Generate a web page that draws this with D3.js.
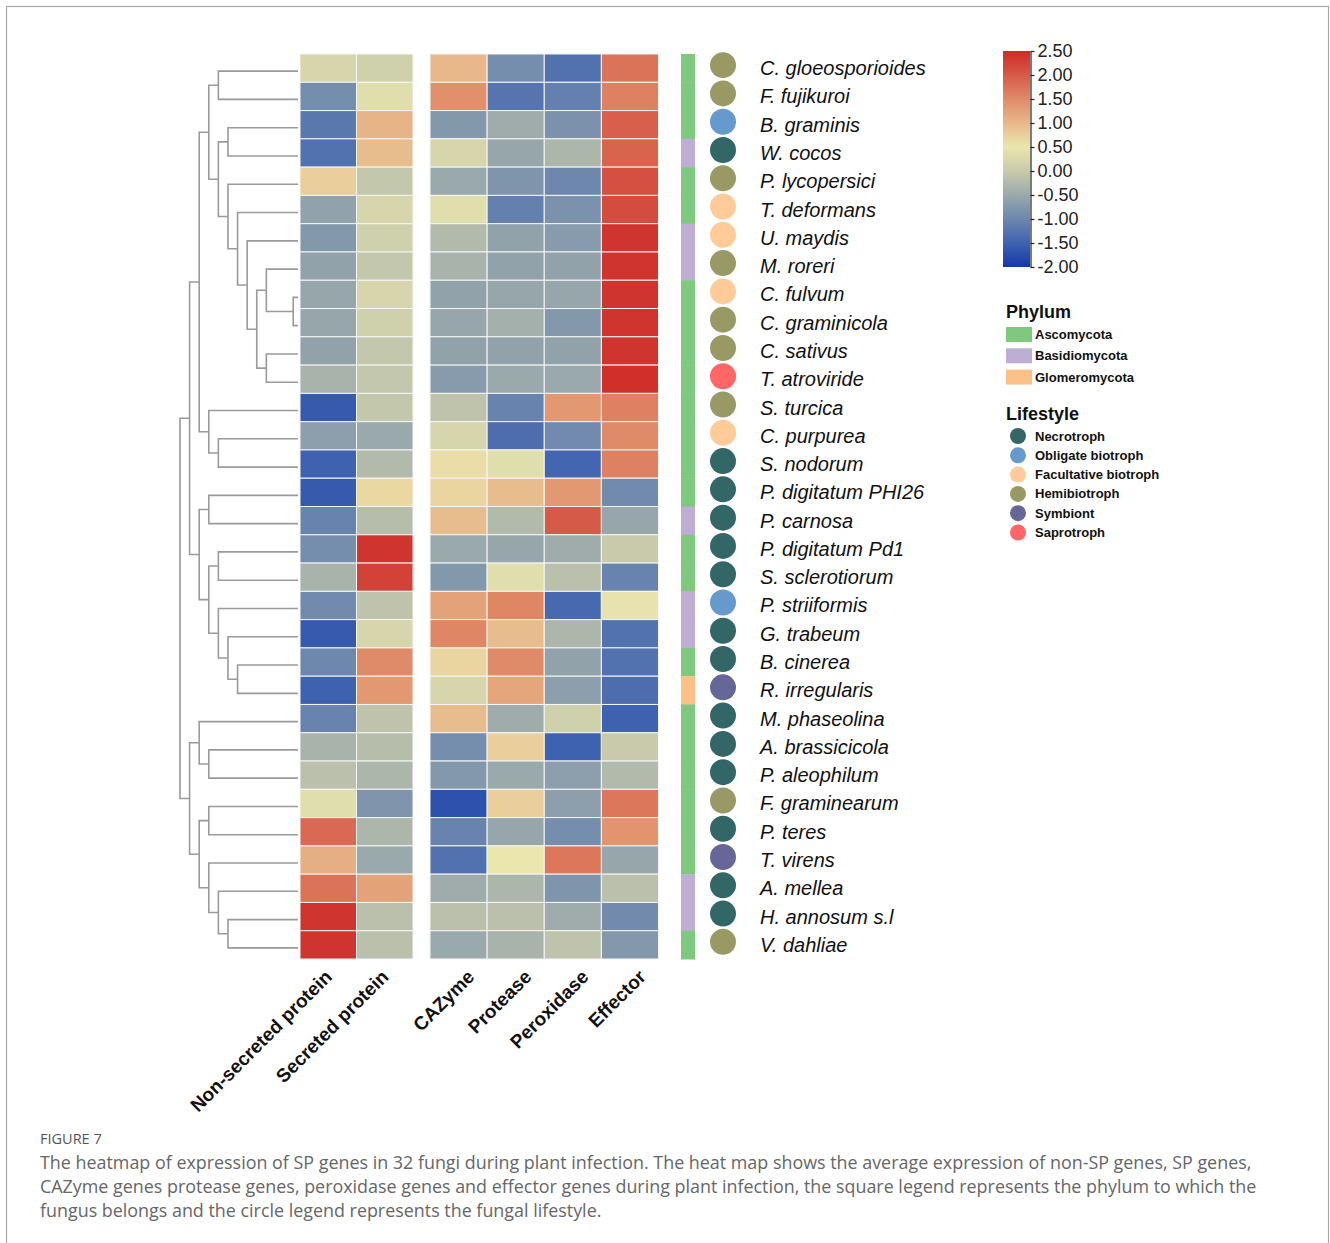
<!DOCTYPE html>
<html>
<head>
<meta charset="utf-8">
<script src="https://cdn.jsdelivr.net/npm/d3@7"></script>
<style>
  body { margin: 0; background: #fff; }
  text { font-family: "Liberation Sans", Arial, sans-serif; }
</style>
</head>
<body>
<div class="chart"></div>
<script>
var svgWidth = 1330;
var svgHeight = 1243;

// row order (top to bottom, as in the clustered heatmap)
var species = ["C. gloeosporioides", "F. fujikuroi", "B. graminis", "W. cocos", "P. lycopersici",
  "T. deformans", "U. maydis", "M. roreri", "C. fulvum", "C. graminicola", "C. sativus",
  "T. atroviride", "S. turcica", "C. purpurea", "S. nodorum", "P. digitatum PHI26", "P. carnosa",
  "P. digitatum Pd1", "S. sclerotiorum", "P. striiformis", "G. trabeum", "B. cinerea",
  "R. irregularis", "M. phaseolina", "A. brassicicola", "P. aleophilum", "F. graminearum",
  "P. teres", "T. virens", "A. mellea", "H. annosum s.l", "V. dahliae"];

var phylum = ["Ascomycota", "Ascomycota", "Ascomycota", "Basidiomycota", "Ascomycota",
  "Ascomycota", "Basidiomycota", "Basidiomycota", "Ascomycota", "Ascomycota", "Ascomycota",
  "Ascomycota", "Ascomycota", "Ascomycota", "Ascomycota", "Ascomycota", "Basidiomycota",
  "Ascomycota", "Ascomycota", "Basidiomycota", "Basidiomycota", "Ascomycota",
  "Glomeromycota", "Ascomycota", "Ascomycota", "Ascomycota", "Ascomycota",
  "Ascomycota", "Ascomycota", "Basidiomycota", "Basidiomycota", "Ascomycota"];

var lifestyle = ["Hemibiotroph", "Hemibiotroph", "Obligate biotroph", "Necrotroph", "Hemibiotroph",
  "Facultative biotroph", "Facultative biotroph", "Hemibiotroph", "Facultative biotroph",
  "Hemibiotroph", "Hemibiotroph", "Saprotroph", "Hemibiotroph", "Facultative biotroph",
  "Necrotroph", "Necrotroph", "Necrotroph", "Necrotroph", "Necrotroph", "Obligate biotroph",
  "Necrotroph", "Necrotroph", "Symbiont", "Necrotroph", "Necrotroph", "Necrotroph",
  "Hemibiotroph", "Necrotroph", "Symbiont", "Necrotroph", "Necrotroph", "Hemibiotroph"];

// heatmap values, one array per column
var nonSecreted = [0.2, -0.9, -1.2, -1.3, 0.75, -0.6, -0.75, -0.6, -0.55, -0.55, -0.6, -0.35,
  -1.6, -0.65, -1.5, -1.6, -1.05, -0.9, -0.35, -0.95, -1.6, -1.0, -1.5, -1.05,
  -0.35, -0.15, 0.35, 1.85, 1.1, 1.75, 2.4, 2.4];
var secreted = [0.1, 0.35, 1.05, 0.95, -0.05, 0.2, 0.1, -0.05, 0.2, 0.1, -0.05, -0.05,
  -0.05, -0.5, -0.25, 0.65, -0.2, 2.4, 2.25, -0.1, 0.2, 1.5, 1.35, -0.1,
  -0.2, -0.3, -0.8, -0.3, -0.5, 1.25, -0.15, -0.15];
var cazyme = [1.0, 1.45, -0.75, 0.2, -0.5, 0.35, -0.25, -0.35, -0.6, -0.55, -0.6, -0.7,
  -0.1, 0.2, 0.6, 0.7, 0.95, -0.5, -0.75, 1.25, 1.55, 0.7, 0.2, 0.95,
  -0.9, -0.75, -1.7, -1.05, -1.3, -0.45, -0.15, -0.5];
var protease = [-0.9, -1.25, -0.45, -0.55, -0.8, -1.1, -0.6, -0.6, -0.55, -0.4, -0.6, -0.5,
  -1.05, -1.35, 0.35, 0.95, -0.25, -0.55, 0.35, 1.55, 0.95, 1.5, 1.2, -0.45,
  0.75, -0.5, 0.75, -0.55, 0.5, -0.3, -0.15, -0.35];
var peroxidase = [-1.3, -1.1, -0.85, -0.3, -1.0, -0.85, -0.7, -0.6, -0.55, -0.75, -0.6, -0.5,
  1.35, -0.95, -1.45, 1.35, 2.0, -0.45, -0.15, -1.4, -0.3, -0.6, -0.65, 0.1,
  -1.5, -0.65, -0.65, -0.9, 1.7, -0.8, -0.45, -0.1];
var effector = [1.75, 1.6, 1.95, 1.9, 2.1, 2.15, 2.4, 2.4, 2.4, 2.4, 2.4, 2.45,
  1.6, 1.5, 1.6, -0.95, -0.55, 0.0, -1.05, 0.45, -1.3, -1.3, -1.35, -1.5,
  0.0, -0.25, 1.7, 1.4, -0.55, -0.15, -0.95, -0.75];

var leftColumns = ["Non-secreted protein", "Secreted protein"];
var rightColumns = ["CAZyme", "Protease", "Peroxidase", "Effector"];
var colorTicks = [2.5, 2, 1.5, 1, 0.5, 0, -0.5, -1, -1.5, -2];
var phylumNames = ["Ascomycota", "Basidiomycota", "Glomeromycota"];
var lifestyleNames = ["Necrotroph", "Obligate biotroph", "Facultative biotroph",
  "Hemibiotroph", "Symbiont", "Saprotroph"];

// row clustering: [child A, child B, merge height]; leaves 0-31, merges numbered from 32
var linkage = [
  [8, 9, 0.5], [7, 32, 3.3], [10, 11, 3.3], [33, 34, 4.3], [6, 35, 5.3], [5, 36, 6.3],
  [4, 37, 7.3], [2, 3, 7.3], [39, 38, 8.3], [0, 1, 8.3], [41, 40, 9.3], [13, 14, 8.3],
  [12, 43, 9.3], [42, 44, 10.3], [15, 16, 9.3], [17, 18, 8.3], [21, 22, 6.3], [20, 48, 7.3],
  [19, 49, 8.3], [47, 50, 9.3], [46, 51, 10.3], [45, 52, 11.3], [24, 25, 9.3], [23, 54, 10.3],
  [26, 27, 9.3], [30, 31, 7.3], [29, 57, 8.3], [28, 58, 9.3], [56, 59, 10.3], [55, 60, 11.3],
  [53, 61, 12.3]
];

var captionLines = [
  "The heatmap of expression of SP genes in 32 fungi during plant infection. The heat map shows the average expression of non-SP genes, SP genes,",
  "CAZyme genes protease genes, peroxidase genes and effector genes during plant infection, the square legend represents the phylum to which the",
  "fungus belongs and the circle legend represents the fungal lifestyle."
];

// table the heatmap reads from
var columnValues = {
  "Non-secreted protein": nonSecreted,
  "Secreted protein": secreted,
  "CAZyme": cazyme,
  "Protease": protease,
  "Peroxidase": peroxidase,
  "Effector": effector
};
var cells = [];
species.forEach(function(s, i) {
  leftColumns.concat(rightColumns).forEach(function(c) {
    cells.push({ row: i, col: c, value: columnValues[c][i] });
  });
});

var svg = d3.select(".chart")
  .append("svg")
  .attr("width", svgWidth)
  .attr("height", svgHeight);

// page frame
svg.append("rect")
  .attr("x", 6.5).attr("y", 6.5)
  .attr("width", 1322).attr("height", 1260)
  .attr("fill", "none")
  .attr("stroke", "#a8a8a8")
  .attr("stroke-width", 1.2);

// scales
var yScale = d3.scaleBand().domain(d3.range(species.length)).range([54, 959]);
var xLeft = d3.scaleBand().domain(leftColumns).range([300, 413]);
var xRight = d3.scaleBand().domain(rightColumns).range([430, 658.5]);
function colX(c) { return leftColumns.indexOf(c) >= 0 ? xLeft(c) : xRight(c); }
function colW(c) { return leftColumns.indexOf(c) >= 0 ? xLeft.bandwidth() : xRight.bandwidth(); }

var stopValues = [-2, -1.5, -1, -0.5, 0, 0.5, 1, 1.5, 2, 2.5];
var color = d3.scaleLinear()
  .domain(stopValues)
  .range(["#1538a8", "#3f62b0", "#6d87ad", "#9aa9ab", "#c8caab", "#ebe6ae",
    "#e8b88a", "#e08b68", "#d65a48", "#cf2a27"])
  .clamp(true);

var phylumColor = d3.scaleOrdinal().domain(phylumNames).range(["#7fc97f", "#beaed4", "#fdc086"]);
var lifeColor = d3.scaleOrdinal().domain(lifestyleNames)
  .range(["#336666", "#6699cc", "#ffcc99", "#999966", "#666699", "#ff6666"]);

var rowMid = function(i) { return yScale(i) + yScale.bandwidth() / 2; };

// heatmap cells
svg.append("g").selectAll("rect")
  .data(cells)
  .enter()
  .append("rect")
  .attr("x", d => colX(d.col))
  .attr("y", d => yScale(d.row))
  .attr("width", d => colW(d.col))
  .attr("height", yScale.bandwidth())
  .attr("fill", d => color(d.value))
  .attr("stroke", "#f6f6f6")
  .attr("stroke-width", 1);

// dendrogram
var hx = d3.scaleLinear().domain([0, 12.3]).range([298, 180]);
var nodes = species.map(function(s, i) { return { y: rowMid(i) + 3, h: 0 }; });
var dendro = svg.append("g")
  .attr("fill", "none")
  .attr("stroke", "#9a9a9a")
  .attr("stroke-width", 1.6);
linkage.forEach(function(m) {
  var a = nodes[m[0]], b = nodes[m[1]];
  nodes.push({ y: (a.y + b.y) / 2, h: m[2] });
  dendro.append("path")
    .attr("d", `M${hx(a.h)},${a.y}H${hx(m[2])}V${b.y}H${hx(b.h)}`);
});

// phylum strip
svg.append("g").selectAll("rect")
  .data(phylum)
  .enter()
  .append("rect")
  .attr("x", 681)
  .attr("y", (d, i) => yScale(i))
  .attr("width", 14)
  .attr("height", yScale.bandwidth() + 0.5)
  .attr("fill", d => phylumColor(d));

// lifestyle circles
svg.append("g").selectAll("circle")
  .data(lifestyle)
  .enter()
  .append("circle")
  .attr("cx", 723)
  .attr("cy", (d, i) => rowMid(i) - 3)
  .attr("r", 13)
  .attr("fill", d => lifeColor(d));

// species labels
svg.append("g").selectAll("text")
  .data(species)
  .enter()
  .append("text")
  .attr("x", 760)
  .attr("y", (d, i) => rowMid(i) + 7)
  .attr("font-size", 20)
  .attr("font-style", "italic")
  .attr("fill", "#111")
  .text(d => d);

// column labels (rotated)
var colLabels = svg.append("g");
leftColumns.concat(rightColumns).forEach(function(c) {
  var shift = leftColumns.indexOf(c) >= 0 ? 5 : 17;
  var lx = colX(c) + colW(c) / 2 + shift;
  var ly = 978;
  colLabels.append("text")
    .attr("x", lx).attr("y", ly)
    .attr("transform", `rotate(-45, ${lx}, ${ly})`)
    .attr("text-anchor", "end")
    .attr("font-size", 19)
    .attr("font-weight", "bold")
    .attr("fill", "#111")
    .text(c);
});

// colour bar
var defs = svg.append("defs");
var grad = defs.append("linearGradient")
  .attr("id", "cbar")
  .attr("x1", 0).attr("y1", 1).attr("x2", 0).attr("y2", 0);
stopValues.forEach(function(v) {
  grad.append("stop")
    .attr("offset", (v + 2) / 4.5)
    .attr("stop-color", color(v));
});
var cbScale = d3.scaleLinear().domain([-2, 2.5]).range([267, 51]);
svg.append("rect")
  .attr("x", 1003).attr("y", 51)
  .attr("width", 27).attr("height", 216)
  .attr("fill", "url(#cbar)");
var cbAxis = svg.append("g")
  .attr("transform", "translate(1030.5,0)")
  .call(d3.axisRight(cbScale)
    .tickValues(colorTicks)
    .tickFormat(d => d.toFixed(2))
    .tickSize(4)
    .tickSizeOuter(0)
    .tickPadding(3));
cbAxis.select(".domain").attr("stroke", "#222").attr("stroke-width", 1.2);
cbAxis.selectAll(".tick line").attr("stroke", "#222").attr("stroke-width", 1.2);
cbAxis.selectAll(".tick text")
  .attr("font-family", "'Open Sans', sans-serif")
  .attr("font-size", 18)
  .attr("fill", "#222");

// phylum legend
var legend = svg.append("g");
legend.append("text")
  .attr("x", 1006).attr("y", 318)
  .attr("font-size", 18).attr("font-weight", "bold").attr("fill", "#111")
  .text("Phylum");
phylumNames.forEach(function(p, i) {
  var ty = 327 + i * 21.3;
  legend.append("rect")
    .attr("x", 1006).attr("y", ty)
    .attr("width", 26).attr("height", 15)
    .attr("fill", phylumColor(p));
  legend.append("text")
    .attr("x", 1035).attr("y", ty + 12)
    .attr("font-size", 13).attr("font-weight", "bold").attr("fill", "#111")
    .text(p);
});

// lifestyle legend
legend.append("text")
  .attr("x", 1006).attr("y", 420)
  .attr("font-size", 18).attr("font-weight", "bold").attr("fill", "#111")
  .text("Lifestyle");
lifestyleNames.forEach(function(l, i) {
  var cy = 436 + i * 19.3;
  legend.append("circle")
    .attr("cx", 1018).attr("cy", cy).attr("r", 8)
    .attr("fill", lifeColor(l));
  legend.append("text")
    .attr("x", 1035).attr("y", cy + 4.5)
    .attr("font-size", 13).attr("font-weight", "bold").attr("fill", "#111")
    .text(l);
});

// caption
var caption = svg.append("g");
caption.append("text")
  .attr("x", 40).attr("y", 1144)
  .attr("font-size", 14.5)
  .attr("fill", "#555")
  .style("font-family", "'Open Sans', sans-serif")
  .text("FIGURE 7");
captionLines.forEach(function(line, i) {
  caption.append("text")
    .attr("x", 40).attr("y", 1169 + i * 24)
    .attr("font-size", 17.9)
    .attr("fill", "#666")
    .style("font-family", "'Open Sans', sans-serif")
    .text(line);
});
</script>
</body>
</html>
